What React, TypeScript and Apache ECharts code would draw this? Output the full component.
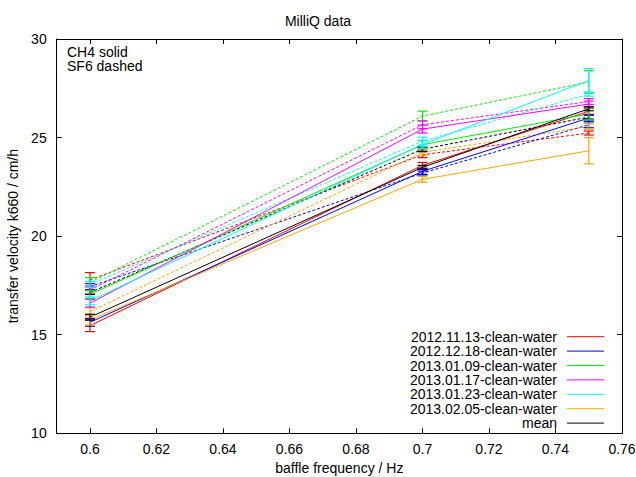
import React, { useEffect, useRef } from "react";
import * as echarts from "echarts";

const xValues = [0.6, 0.7, 0.75];
const seriesNames = [
  "2012.11.13-clean-water",
  "2012.12.18-clean-water",
  "2013.01.09-clean-water",
  "2013.01.17-clean-water",
  "2013.01.23-clean-water",
  "2013.02.05-clean-water",
  "mean",
];
const seriesColors = ["#ff0000", "#0000ff", "#00ee00", "#ff00ff", "#00ffff", "#ffa500", "#000000"];

// CH4 (solid) values at each x
const ch4Values = [
  [15.46, 23.59, 26.33],
  [15.63, 23.29, 25.99],
  [17.05, 24.64, 26.2],
  [16.6, 25.43, 26.7],
  [16.72, 24.66, 27.9],
  [15.75, 22.88, 24.33],
  [15.89, 23.49, 26.46],
];
const ch4Errors = [
  [0.3, 0.15, 0.15],
  [0.2, 0.15, 0.15],
  [0.2, 0.2, 0.3],
  [0.2, 0.2, 0.15],
  [0.2, 0.2, 0.6],
  [0.25, 0.15, 0.66],
  [0.15, 0.1, 0.1],
];
// SF6 (dashed) values at each x
const sf6Values = [
  [17.78, 24.13, 25.23],
  [17.44, 23.2, 25.65],
  [17.65, 26.09, 27.82],
  [17.27, 25.65, 26.83],
  [17.55, 24.82, 27.2],
  [16.17, 24.25, 25.56],
  [17.14, 24.41, 26.04],
];
const sf6Errors = [
  [0.37, 0.15, 0.1],
  [0.15, 0.1, 0.15],
  [0.25, 0.25, 0.57],
  [0.2, 0.2, 0.15],
  [0.15, 0.2, 0.1],
  [0.2, 0.15, 0.15],
  [0.1, 0.1, 0.1],
];
const xTicks = [0.6, 0.62, 0.64, 0.66, 0.68, 0.7, 0.72, 0.74, 0.76];
const noteLines = ["CH4 solid", "SF6 dashed"];

const FONT = "Liberation Sans, Arial, sans-serif";

function errorSeries(color: string, vals: number[], errs: number[]) {
  return {
    type: "custom",
    silent: true,
    z: 3,
    data: xValues.map((x, i) => [x, vals[i] - errs[i], vals[i] + errs[i]]),
    encode: { x: 0, y: [1, 2] },
    renderItem: (params: any, api: any) => {
      const x = api.value(0);
      const lo = api.coord([x, api.value(1)]);
      const hi = api.coord([x, api.value(2)]);
      const hw = 5;
      const style = { stroke: color, lineWidth: 1.2 };
      return {
        type: "group",
        children: [
          { type: "line", shape: { x1: lo[0], y1: lo[1], x2: hi[0], y2: hi[1] }, style },
          { type: "line", shape: { x1: lo[0] - hw, y1: lo[1], x2: lo[0] + hw, y2: lo[1] }, style },
          { type: "line", shape: { x1: hi[0] - hw, y1: hi[1], x2: hi[0] + hw, y2: hi[1] }, style },
        ],
      };
    },
  };
}

export default function App() {
  const ref = useRef<HTMLDivElement>(null);
  useEffect(() => {
    if (!ref.current) return;
    const chart = echarts.init(ref.current, null, { renderer: "svg" });
    const series: any[] = [];
    seriesNames.forEach((name, k) => {
      series.push({
        name: name + " SF6",
        type: "line",
        data: xValues.map((x, i) => [x, sf6Values[k][i]]),
        showSymbol: false,
        lineStyle: { color: seriesColors[k], width: 1, type: [3, 2] },
        z: 2,
      });
      series.push(errorSeries(seriesColors[k], sf6Values[k], sf6Errors[k]));
    });
    seriesNames.forEach((name, k) => {
      series.push({
        name,
        type: "line",
        data: xValues.map((x, i) => [x, ch4Values[k][i]]),
        showSymbol: false,
        lineStyle: { color: seriesColors[k], width: 1 },
        z: 2,
      });
      series.push(errorSeries(seriesColors[k], ch4Values[k], ch4Errors[k]));
    });

    const legendTop = 336.7;
    const legendStep = 14.4;
    const legendGraphics: any[] = [];
    seriesNames.forEach((name, k) => {
      const y = legendTop + k * legendStep;
      legendGraphics.push({
        type: "text",
        x: 557,
        y,
        style: {
          text: name,
          fill: "#000",
          font: `14px ${FONT}`,
          lineHeight: 13,
          align: "right",
          verticalAlign: "middle",
        },
      });
      legendGraphics.push({
        type: "line",
        shape: { x1: 567, y1: y, x2: 604, y2: y },
        style: { stroke: seriesColors[k], lineWidth: 1 },
      });
    });

    const labelStyle = { fontFamily: FONT, fontSize: 14, color: "#000" };
    chart.setOption({
      animation: false,
      backgroundColor: "#fff",
      title: {
        text: "MilliQ data",
        left: "center",
        top: 9,
        textStyle: { fontFamily: FONT, fontSize: 14, fontWeight: "normal", color: "#000" },
      },
      grid: {
        left: 56.7,
        right: 14,
        top: 39,
        bottom: 43.7,
        show: false,
        containLabel: false,
        outerBoundsMode: "none",
      },
      xAxis: [
        {
          type: "value",
          min: 0.59,
          max: 0.76,
          name: "baffle frequency / Hz",
          nameLocation: "middle",
          nameGap: 27,
          nameTextStyle: labelStyle,
          axisLine: { onZero: false, lineStyle: { color: "#000", width: 1 } },
          axisTick: { inside: true, length: 5, customValues: xTicks, lineStyle: { color: "#000" } },
          axisLabel: {
            ...labelStyle,
            margin: 9,
            customValues: xTicks,
            formatter: (v: number) => String(+v.toFixed(2)),
          },
          splitLine: { show: false },
        },
        {
          type: "value",
          position: "top",
          min: 0.59,
          max: 0.76,
          axisLine: { onZero: false, lineStyle: { color: "#000", width: 1 } },
          axisTick: { inside: true, length: 5, customValues: xTicks, lineStyle: { color: "#000" } },
          axisLabel: { show: false },
          splitLine: { show: false },
        },
      ],
      yAxis: [
        {
          type: "value",
          min: 10,
          max: 30,
          interval: 5,
          name: "transfer velocity k660 / cm/h",
          nameLocation: "middle",
          nameGap: 36,
          nameTextStyle: labelStyle,
          axisLine: { onZero: false, lineStyle: { color: "#000", width: 1 } },
          axisTick: { inside: true, length: 5, lineStyle: { color: "#000" } },
          axisLabel: { ...labelStyle, margin: 10 },
          splitLine: { show: false },
        },
        {
          type: "value",
          position: "right",
          min: 10,
          max: 30,
          interval: 5,
          axisLine: { show: true, onZero: false, lineStyle: { color: "#000", width: 1 } },
          axisTick: { show: true, inside: true, length: 5, lineStyle: { color: "#000" } },
          axisLabel: { show: false },
          splitLine: { show: false },
        },
      ],
      graphic: [
        ...noteLines.map((t, i) => ({
          type: "text",
          x: 67,
          y: 52 + i * 14,
          style: { text: t, fill: "#000", font: `14px ${FONT}`, lineHeight: 13, verticalAlign: "middle" },
        })),
        ...legendGraphics,
      ],
      series,
    });
    return () => chart.dispose();
  }, []);
  return <div ref={ref} style={{ width: 636, height: 477, position: "absolute", left: 0, top: 0 }} />;
}
